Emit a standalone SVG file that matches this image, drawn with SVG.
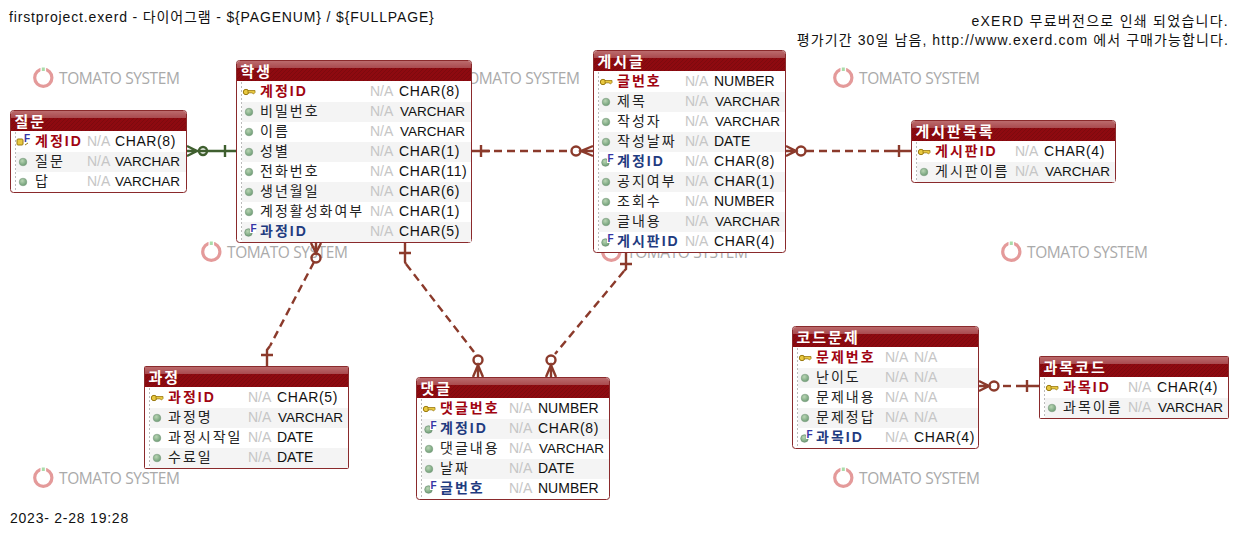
<svg xmlns="http://www.w3.org/2000/svg" width="1240" height="536" viewBox="0 0 1240 536">
<style>
text{font-family:"Liberation Sans","Noto Sans CJK KR",sans-serif}
.t{font-size:14px;fill:#111}
.wm{font-family:"Open Sans","Noto Sans",sans-serif;font-size:15.5px;fill:#aaa;letter-spacing:-.4px}
.ring{fill:none;stroke:#e49a9a;stroke-width:3.2}
.sprout{fill:#a9dca9}
.box{fill:#fff;stroke:#8a2a2c}
.top{fill:url(#topg)}
.band{fill:url(#hatch)}
.title{font-size:15px;font-weight:bold;fill:#fff;letter-spacing:2px}
.stripe{fill:#f4f4f4}
.sep{stroke:#bbb;stroke-dasharray:2 2;fill:none}
.n,.pk,.fk,.na,.ty{transform:translateY(-.7px)}
.n{font-size:14px;letter-spacing:2px;fill:#222}
.pk{font-size:14px;letter-spacing:2px;font-weight:bold;fill:#a00410}
.fk{font-size:14px;letter-spacing:2px;font-weight:bold;fill:#1f3b80}
.na{font-size:14px;fill:#c6c6c6}
.ty{font-size:14px;fill:#111}
.cr{letter-spacing:.6px}
.vr{font-size:13.5px}
.c{fill:none;stroke:#8b3a2b;stroke-width:2.4}
.d{stroke-dasharray:8 5}
.g{fill:none;stroke:#3f5f2f;stroke-width:2.4}
.Fm{font-size:10px;font-weight:bold;fill:#3535a5}
</style>
<defs>
<linearGradient id="topg" x1="0" y1="0" x2="0" y2="1"><stop offset="0" stop-color="#bb6a6c"/><stop offset="1" stop-color="#a94a4e"/></linearGradient>
<pattern id="hatch" width="4" height="4" patternUnits="userSpaceOnUse"><rect width="4" height="4" fill="#8e0a10"/><path d="M0 4L4 0" stroke="#7d0a0e" stroke-width="1"/></pattern>
<radialGradient id="dotg" cx=".4" cy=".35" r=".7"><stop offset="0" stop-color="#b9d5b4"/><stop offset="1" stop-color="#6a9a72"/></radialGradient>
<g id="wm"><circle cx="10.3" cy="10.7" r="8.6" class="ring"/><rect x="7.5" y="0" width="5.6" height="5" fill="#fff"/><rect x="8.8" y="0.5" width="3" height="3.5" class="sprout"/><text x="26" y="17" class="wm">TOMATO SYSTEM</text></g>
<g id="dot"><circle cx="13" cy="10" r="3.8" fill="url(#dotg)" stroke="#7c9c80" stroke-width=".6"/></g>
<g id="key"><circle cx="10" cy="10" r="2.7" fill="#e8c840" stroke="#9a7a10"/><path d="M12 8.5H19V10.5L17.5 12L16 10.8H12Z" fill="#e8c840" stroke="#9a7a10" stroke-width=".8"/></g>
<g id="fkic"><circle cx="12.5" cy="10.5" r="3.8" fill="url(#dotg)" stroke="#6a8a70" stroke-width=".6"/><rect x="14" y="3" width="6" height="8" fill="#fff"/><text x="14.5" y="10" class="Fm">F</text></g>
<g id="pkfk"><rect x="7" y="7" width="6" height="6" rx="1" fill="#e8c840" stroke="#9a7a10"/><text x="14" y="10" class="Fm">F</text><path d="M15 13L18 11" stroke="#9a7a10"/></g>
</defs>

<g id="watermarks">
<use href="#wm" x="33" y="67"/><use href="#wm" x="433" y="67"/><use href="#wm" x="833" y="67"/>
<use href="#wm" x="201" y="241"/><use href="#wm" x="601" y="241"/><use href="#wm" x="1001" y="241"/>
<use href="#wm" x="33" y="467"/><use href="#wm" x="433" y="467"/><use href="#wm" x="833" y="467"/>
</g>

<text id="hdr-left" class="t" x="9" y="22" style="letter-spacing:.85px">firstproject.exerd - 다이어그램 - ${PAGENUM} / ${FULLPAGE}</text>
<text id="hdr-r1" class="t" x="1229" y="26" text-anchor="end" style="letter-spacing:1.27px">eXERD 무료버전으로 인쇄 되었습니다.</text>
<text id="hdr-r2" class="t" x="1229" y="45" text-anchor="end" style="letter-spacing:1.1px">평가기간 30일 남음, http://www.exerd.com 에서 구매가능합니다.</text>
<text id="footer" class="t" x="10" y="523" style="letter-spacing:.77px">2023- 2-28 19:28</text>

<g id="connectors">
<path class="g" d="M187 151H236M187 146L197 151L187 156M225 145V157"/><circle class="g" cx="203" cy="151" r="4"/>
<path class="c d" d="M481 151H571"/><path class="c" d="M471 151H490M481 145V157M593 151H581M593 146L581 151L593 156"/><circle class="c" cx="576" cy="151" r="4.5"/>
<path class="c d" d="M806 151H890"/><path class="c" d="M786 151H796M786 146L796 151L786 156M890 151H911M899 145V157"/><circle class="c" cx="801" cy="151" r="4.5"/>
<path class="c d" d="M314 262L270 346"/><path class="c" d="M316 243V253M311 243L316 253L321 243M270 346L267 350V366M261 355H273"/><circle class="c" cx="316" cy="258" r="4.5"/>
<path class="c d" d="M406 264L474 352"/><path class="c" d="M405 243V262L406 264M399 253H411M478 366V377M473 377L478 365L483 377"/><circle class="c" cx="478" cy="360" r="4.5"/>
<path class="c d" d="M624 271L555 354"/><path class="c" d="M626 253V269L624 271M620 264H632M551 366V377M546 377L551 365L556 377"/><circle class="c" cx="551" cy="360" r="4.5"/>
<path class="c" d="M1003 386H1011"/><path class="c" d="M979 386H989M979 381L989 386L979 391M1016 386H1039M1027 380V392"/><circle class="c" cx="994" cy="386" r="4.5"/>
</g>

<g id="t-jilmun" transform="translate(10,110)">
<rect class="box" x=".5" y=".5" width="176" height="82" rx="3"/>
<path class="top" d="M1 8V4Q1 1 4 1H173Q176 1 176 4V8Z"/><rect class="band" x="1" y="8" width="175" height="13"/>
<text class="title" x="4.5" y="17">질문</text>
<rect class="stripe" x="6" y="42" width="170" height="20"/>
<path class="sep" d="M5.5 22V82"/>
<use href="#pkfk" y="22"/><use href="#dot" y="42"/><use href="#dot" y="62"/>
<text class="pk" x="25" y="37">계정ID</text><text class="na" x="77" y="37">N/A</text><text class="ty cr" x="105" y="37">CHAR(8)</text>
<text class="n" x="25" y="57">질문</text><text class="na" x="77" y="57">N/A</text><text class="ty vr" x="105" y="57">VARCHAR</text>
<text class="n" x="25" y="77">답</text><text class="na" x="77" y="77">N/A</text><text class="ty vr" x="105" y="77">VARCHAR</text>
</g>

<g id="t-haksaeng" transform="translate(236,60)">
<rect class="box" x=".5" y=".5" width="235" height="182" rx="3"/>
<path class="top" d="M1 8V4Q1 1 4 1H232Q235 1 235 4V8Z"/><rect class="band" x="1" y="8" width="234" height="13"/>
<text class="title" x="4.5" y="17">학생</text>
<rect class="stripe" x="6" y="42" width="229" height="20"/><rect class="stripe" x="6" y="82" width="229" height="20"/><rect class="stripe" x="6" y="122" width="229" height="20"/><rect class="stripe" x="6" y="162" width="229" height="20"/>
<path class="sep" d="M5.5 22V182"/>
<use href="#key" y="22"/><use href="#dot" y="42"/><use href="#dot" y="62"/><use href="#dot" y="82"/><use href="#dot" y="102"/><use href="#dot" y="122"/><use href="#dot" y="142"/><use href="#fkic" y="162"/>
<text class="pk" x="24" y="37">계정ID</text><text class="na" x="134" y="37">N/A</text><text class="ty cr" x="163" y="37">CHAR(8)</text>
<text class="n" x="24" y="57">비밀번호</text><text class="na" x="134" y="57">N/A</text><text class="ty vr" x="164" y="57">VARCHAR</text>
<text class="n" x="24" y="77">이름</text><text class="na" x="134" y="77">N/A</text><text class="ty vr" x="164" y="77">VARCHAR</text>
<text class="n" x="24" y="97">성별</text><text class="na" x="134" y="97">N/A</text><text class="ty cr" x="163" y="97">CHAR(1)</text>
<text class="n" x="24" y="117">전화번호</text><text class="na" x="134" y="117">N/A</text><text class="ty cr" x="163" y="117">CHAR(11)</text>
<text class="n" x="24" y="137">생년월일</text><text class="na" x="134" y="137">N/A</text><text class="ty cr" x="163" y="137">CHAR(6)</text>
<text class="n" x="24" y="157">계정활성화여부</text><text class="na" x="134" y="157">N/A</text><text class="ty cr" x="163" y="157">CHAR(1)</text>
<text class="fk" x="24" y="177">과정ID</text><text class="na" x="134" y="177">N/A</text><text class="ty cr" x="163" y="177">CHAR(5)</text>
</g>

<g id="t-gesigeul" transform="translate(593,50)">
<rect class="box" x=".5" y=".5" width="192" height="202" rx="3"/>
<path class="top" d="M1 8V4Q1 1 4 1H189Q192 1 192 4V8Z"/><rect class="band" x="1" y="8" width="191" height="13"/>
<text class="title" x="4.5" y="17">게시글</text>
<rect class="stripe" x="6" y="42" width="186" height="20"/><rect class="stripe" x="6" y="82" width="186" height="20"/><rect class="stripe" x="6" y="122" width="186" height="20"/><rect class="stripe" x="6" y="162" width="186" height="20"/>
<path class="sep" d="M5.5 22V202"/>
<use href="#key" y="22"/><use href="#dot" y="42"/><use href="#dot" y="62"/><use href="#dot" y="82"/><use href="#fkic" y="102"/><use href="#dot" y="122"/><use href="#dot" y="142"/><use href="#dot" y="162"/><use href="#fkic" y="182"/>
<text class="pk" x="24" y="37">글번호</text><text class="na" x="92" y="37">N/A</text><text class="ty" x="121" y="37">NUMBER</text>
<text class="n" x="24" y="57">제목</text><text class="na" x="92" y="57">N/A</text><text class="ty vr" x="122" y="57">VARCHAR</text>
<text class="n" x="24" y="77">작성자</text><text class="na" x="92" y="77">N/A</text><text class="ty vr" x="122" y="77">VARCHAR</text>
<text class="n" x="24" y="97">작성날짜</text><text class="na" x="92" y="97">N/A</text><text class="ty" x="121" y="97">DATE</text>
<text class="fk" x="24" y="117">계정ID</text><text class="na" x="92" y="117">N/A</text><text class="ty cr" x="121" y="117">CHAR(8)</text>
<text class="n" x="24" y="137">공지여부</text><text class="na" x="92" y="137">N/A</text><text class="ty cr" x="121" y="137">CHAR(1)</text>
<text class="n" x="24" y="157">조회수</text><text class="na" x="92" y="157">N/A</text><text class="ty" x="121" y="157">NUMBER</text>
<text class="n" x="24" y="177">글내용</text><text class="na" x="92" y="177">N/A</text><text class="ty vr" x="122" y="177">VARCHAR</text>
<text class="fk" x="24" y="197">게시판ID</text><text class="na" x="92" y="197">N/A</text><text class="ty cr" x="121" y="197">CHAR(4)</text>
</g>

<g id="t-board" transform="translate(911,120)">
<rect class="box" x=".5" y=".5" width="204" height="62" rx="3"/>
<path class="top" d="M1 8V4Q1 1 4 1H201Q204 1 204 4V8Z"/><rect class="band" x="1" y="8" width="203" height="13"/>
<text class="title" x="4.5" y="17">게시판목록</text>
<rect class="stripe" x="6" y="42" width="198" height="20"/>
<path class="sep" d="M5.5 22V62"/>
<use href="#key" y="22"/><use href="#dot" y="42"/>
<text class="pk" x="24" y="37">게시판ID</text><text class="na" x="104" y="37">N/A</text><text class="ty cr" x="133" y="37">CHAR(4)</text>
<text class="n" x="24" y="57">게시판이름</text><text class="na" x="104" y="57">N/A</text><text class="ty vr" x="134" y="57">VARCHAR</text>
</g>

<g id="t-course" transform="translate(144,366)">
<rect class="box" x=".5" y=".5" width="204" height="102" rx="1"/>
<path class="top" d="M1 8V1H204V8Z"/><rect class="band" x="1" y="8" width="203" height="13"/>
<text class="title" x="4.5" y="17">과정</text>
<rect class="stripe" x="6" y="42" width="198" height="20"/><rect class="stripe" x="6" y="82" width="198" height="20"/>
<path class="sep" d="M5.5 22V102"/>
<use href="#key" y="22"/><use href="#dot" y="42"/><use href="#dot" y="62"/><use href="#dot" y="82"/>
<text class="pk" x="24" y="37">과정ID</text><text class="na" x="104" y="37">N/A</text><text class="ty cr" x="133" y="37">CHAR(5)</text>
<text class="n" x="24" y="57">과정명</text><text class="na" x="104" y="57">N/A</text><text class="ty vr" x="134" y="57">VARCHAR</text>
<text class="n" x="24" y="77">과정시작일</text><text class="na" x="104" y="77">N/A</text><text class="ty" x="133" y="77">DATE</text>
<text class="n" x="24" y="97">수료일</text><text class="na" x="104" y="97">N/A</text><text class="ty" x="133" y="97">DATE</text>
</g>

<g id="t-reply" transform="translate(416,377)">
<rect class="box" x=".5" y=".5" width="193" height="122" rx="3"/>
<path class="top" d="M1 8V4Q1 1 4 1H190Q193 1 193 4V8Z"/><rect class="band" x="1" y="8" width="192" height="13"/>
<text class="title" x="4.5" y="17">댓글</text>
<rect class="stripe" x="6" y="42" width="187" height="20"/><rect class="stripe" x="6" y="82" width="187" height="20"/>
<path class="sep" d="M5.5 22V122"/>
<use href="#key" y="22"/><use href="#fkic" y="42"/><use href="#dot" y="62"/><use href="#dot" y="82"/><use href="#fkic" y="102"/>
<text class="pk" x="24" y="37">댓글번호</text><text class="na" x="93" y="37">N/A</text><text class="ty" x="122" y="37">NUMBER</text>
<text class="fk" x="24" y="57">계정ID</text><text class="na" x="93" y="57">N/A</text><text class="ty cr" x="122" y="57">CHAR(8)</text>
<text class="n" x="24" y="77">댓글내용</text><text class="na" x="93" y="77">N/A</text><text class="ty vr" x="123" y="77">VARCHAR</text>
<text class="n" x="24" y="97">날짜</text><text class="na" x="93" y="97">N/A</text><text class="ty" x="122" y="97">DATE</text>
<text class="fk" x="24" y="117">글번호</text><text class="na" x="93" y="117">N/A</text><text class="ty" x="122" y="117">NUMBER</text>
</g>

<g id="t-codeq" transform="translate(792,326)">
<rect class="box" x=".5" y=".5" width="186" height="122" rx="3"/>
<path class="top" d="M1 8V4Q1 1 4 1H183Q186 1 186 4V8Z"/><rect class="band" x="1" y="8" width="185" height="13"/>
<text class="title" x="4.5" y="17">코드문제</text>
<rect class="stripe" x="6" y="42" width="180" height="20"/><rect class="stripe" x="6" y="82" width="180" height="20"/>
<path class="sep" d="M5.5 22V122"/>
<use href="#key" y="22"/><use href="#dot" y="42"/><use href="#dot" y="62"/><use href="#dot" y="82"/><use href="#fkic" y="102"/>
<text class="pk" x="24" y="37">문제번호</text><text class="na" x="93" y="37">N/A</text><text class="na" x="122" y="37">N/A</text>
<text class="n" x="24" y="57">난이도</text><text class="na" x="93" y="57">N/A</text><text class="na" x="122" y="57">N/A</text>
<text class="n" x="24" y="77">문제내용</text><text class="na" x="93" y="77">N/A</text><text class="na" x="122" y="77">N/A</text>
<text class="n" x="24" y="97">문제정답</text><text class="na" x="93" y="97">N/A</text><text class="na" x="122" y="97">N/A</text>
<text class="fk" x="24" y="117">과목ID</text><text class="na" x="93" y="117">N/A</text><text class="ty cr" x="122" y="117">CHAR(4)</text>
</g>

<g id="t-subject" transform="translate(1039,356)">
<rect class="box" x=".5" y=".5" width="189" height="62" rx="1"/>
<path class="top" d="M1 8V1H189V8Z"/><rect class="band" x="1" y="8" width="188" height="13"/>
<text class="title" x="4.5" y="17">과목코드</text>
<rect class="stripe" x="6" y="42" width="183" height="20"/>
<path class="sep" d="M5.5 22V62"/>
<use href="#key" y="22"/><use href="#dot" y="42"/>
<text class="pk" x="24" y="37">과목ID</text><text class="na" x="89" y="37">N/A</text><text class="ty cr" x="118" y="37">CHAR(4)</text>
<text class="n" x="24" y="57">과목이름</text><text class="na" x="89" y="57">N/A</text><text class="ty vr" x="119" y="57">VARCHAR</text>
</g>
</svg>
